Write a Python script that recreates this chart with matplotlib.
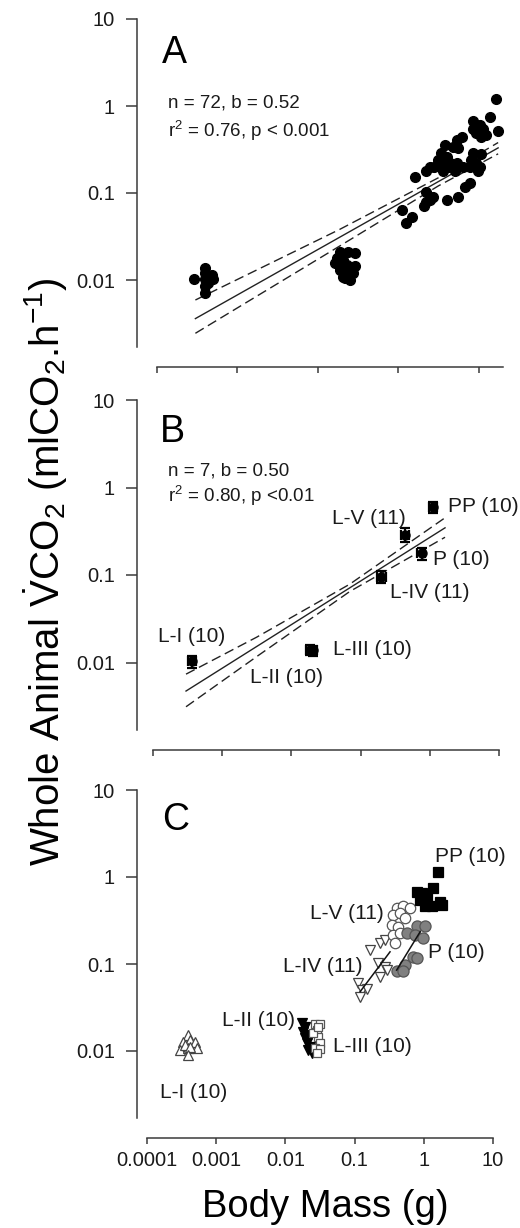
import matplotlib
matplotlib.use('Agg')
import matplotlib.pyplot as plt

plt.rcParams['font.family'] = ['Liberation Sans', 'DejaVu Sans']
plt.rcParams['mathtext.fontset'] = 'custom'
plt.rcParams['mathtext.rm'] = 'Liberation Sans'
plt.rcParams['mathtext.it'] = 'Liberation Sans:italic'
plt.rcParams['mathtext.bf'] = 'Liberation Sans:bold'

# ---------------- data ----------------
ytick_vals = [0.01, 0.1, 1, 10]
ytick_labels = ['0.01', '0.1', '1', '10']
xtick_vals = [0.0001, 0.001, 0.01, 0.1, 1, 10]
xtick_labels = ['0.0001', '0.001', '0.01', '0.1', '1', '10']
xtick_vals_A = [0.0001, 0.001, 0.01, 0.1, 1]

# Panel A: all individuals
a_mass = [0.00029, 0.00039, 0.00039, 0.00039, 0.00039, 0.00039, 0.00048, 0.00049, 0.00043,
          0.0187, 0.0238, 0.0288, 0.0171, 0.0206, 0.0163, 0.0227, 0.0288, 0.0187, 0.0238,
          0.0275, 0.0206, 0.0250, 0.0217, 0.0187,
          1.63, 1.37, 0.85, 1.03, 0.85, 1.13, 0.935, 1.24, 1.74, 1.08,
          0.61, 0.53, 0.48, 0.38, 0.55, 0.34, 0.40, 0.31, 0.34, 0.44,
          0.53, 0.64, 0.50, 0.42, 0.36, 0.25, 0.28, 0.22, 0.85, 1.08,
          0.81, 0.935, 1.03, 0.77, 0.98, 0.16, 0.77, 0.67, 0.22, 0.27,
          0.25, 0.21, 0.22, 0.40, 0.55, 0.11, 0.146, 0.126]
a_vco2 = [0.0102, 0.0139, 0.0119, 0.0102, 0.0085, 0.0070, 0.0114, 0.0102, 0.0093,
          0.0212, 0.0212, 0.0202, 0.0177, 0.0170, 0.0155, 0.0149, 0.0145, 0.0130, 0.0125,
          0.0119, 0.0109, 0.0100, 0.0105, 0.0142,
          1.19, 0.74, 0.68, 0.60, 0.55, 0.55, 0.49, 0.46, 0.51, 0.44,
          0.44, 0.41, 0.34, 0.36, 0.33, 0.29, 0.26, 0.24, 0.22, 0.22,
          0.22, 0.20, 0.18, 0.20, 0.18, 0.20, 0.20, 0.18, 0.29, 0.28,
          0.24, 0.22, 0.20, 0.20, 0.18, 0.154, 0.129, 0.118, 0.104, 0.091,
          0.083, 0.070, 0.079, 0.083, 0.091, 0.064, 0.053, 0.045]
a_fit_x = [0.0003, 1.74]
a_fit_y = [0.0036, 0.33]
a_ci_x = [0.0003, 0.0187, 0.316, 1.74]
a_ci_upper = [0.00589, 0.0382, 0.150, 0.380]
a_ci_lower = [0.00244, 0.0246, 0.121, 0.282]
a_stats = ['n = 72, b = 0.52', 'r$^2$ = 0.76, p < 0.001']

# Panel B: stage means +- SE
stages = ['L-I', 'L-II', 'L-III', 'L-IV', 'L-V', 'P', 'PP']
stage_n = [10, 10, 10, 11, 11, 10, 10]
b_mass = [0.00037, 0.0185, 0.0205, 0.20, 0.44, 0.76, 1.12]
b_mass_se = [0.00005, 0.0025, 0.0028, 0.03, 0.06, 0.10, 0.15]
b_vco2 = [0.0103, 0.0140, 0.0138, 0.096, 0.29, 0.178, 0.60]
b_vco2_se = [0.0016, 0.0018, 0.0018, 0.014, 0.05, 0.028, 0.09]
b_fit_x = [0.0003, 1.66]
b_fit_y = [0.00472, 0.346]
b_ci_x = [0.0003, 0.00316, 0.07, 1.66]
b_ci_upper = [0.00736, 0.0195, 0.0787, 0.451]
b_ci_lower = [0.00312, 0.0117, 0.0649, 0.270]
b_stats = ['n = 7, b = 0.50', 'r$^2$ = 0.80, p <0.01']

# Panel C: individuals by stage
c_LI_mass = [0.000395, 0.000335, 0.000418, 0.000494, 0.00030, 0.000395, 0.000522, 0.000354, 0.000418, 0.000395]
c_LI_vco2 = [0.0153, 0.0128, 0.0134, 0.0128, 0.0103, 0.0107, 0.0107, 0.0117, 0.0112, 0.0090]
c_LII_mass = [0.0172, 0.0192, 0.0181, 0.0203, 0.0192, 0.0215, 0.0203, 0.0227, 0.0215, 0.0240]
c_LII_vco2 = [0.0208, 0.0190, 0.0167, 0.0153, 0.0140, 0.0134, 0.0123, 0.0112, 0.0103, 0.0094]
c_LIII_mass = [0.0268, 0.0316, 0.0283, 0.0299, 0.0316, 0.0268, 0.0316, 0.0283, 0.0254, 0.0299]
c_LIII_vco2 = [0.0204, 0.0204, 0.0174, 0.0144, 0.0123, 0.0107, 0.0105, 0.0094, 0.0160, 0.0190]
c_LIV_mass = [0.113, 0.126, 0.150, 0.120, 0.167, 0.233, 0.275, 0.220, 0.275, 0.233, 0.291]
c_LIV_vco2 = [0.061, 0.050, 0.052, 0.042, 0.145, 0.173, 0.189, 0.102, 0.093, 0.071, 0.085]
c_LV_mass = [0.406, 0.506, 0.632, 0.363, 0.453, 0.535, 0.344, 0.429, 0.363, 0.453, 0.384]
c_LV_vco2 = [0.436, 0.464, 0.436, 0.366, 0.382, 0.335, 0.281, 0.269, 0.215, 0.225, 0.173]
c_P_mass = [0.789, 1.04, 0.566, 0.746, 0.984, 0.706, 0.807, 0.535, 0.406, 0.506]
c_P_vco2 = [0.273, 0.273, 0.225, 0.215, 0.197, 0.121, 0.116, 0.097, 0.082, 0.084]
c_PP_mass = [1.62, 1.37, 0.789, 0.931, 1.10, 1.71, 0.881, 1.04, 1.30, 1.81]
c_PP_vco2 = [1.15, 0.74, 0.68, 0.65, 0.57, 0.52, 0.54, 0.46, 0.46, 0.48]
c_fit1_x = [0.12, 0.325]
c_fit1_y = [0.048, 0.138]
c_fit2_x = [0.405, 0.887]
c_fit2_y = [0.085, 0.235]

# ---------------- figure ----------------
W, H = 520, 1228
fig = plt.figure(figsize=(W / 100, H / 100), dpi=100)


def rect(l, r, t, b):
    return [l / W, 1 - b / H, (r - l) / W, (b - t) / H]


def fpos(x, y):
    return x / W, 1 - y / H


AX = '#3a3a3a'
TXT = '#1a1a1a'


def style(ax, xmax, xticks, left_gap, show_xlabels):
    ax.set_xscale('log')
    ax.set_yscale('log')
    ax.set_xlim(1e-4, xmax)
    ax.set_ylim(1e-3, 10)
    ax.spines['top'].set_visible(False)
    ax.spines['right'].set_visible(False)
    ax.spines['left'].set_position(('outward', left_gap * 0.72))
    ax.spines['left'].set_bounds(0.0017, 10)
    for s in ('left', 'bottom'):
        ax.spines[s].set_linewidth(1.1)
        ax.spines[s].set_color(AX)
    ax.set_yticks(ytick_vals)
    ax.set_yticklabels(ytick_labels)
    ax.set_xticks(xticks)
    if show_xlabels:
        ax.set_xticklabels(xtick_labels)
    else:
        ax.set_xticklabels([])
    ax.minorticks_off()
    ax.tick_params(axis='y', direction='out', length=8, width=1.1, color=AX,
                   labelsize=14.5, pad=8, labelcolor=TXT)
    ax.tick_params(axis='x', direction='out', length=4.5, width=1.1, color=AX,
                   labelsize=14.5, pad=5, labelcolor=TXT)
    ax.patch.set_visible(False)


axA = fig.add_axes(rect(157, 503, 19, 367))
axB = fig.add_axes(rect(153, 499, 400, 750))
axC = fig.add_axes(rect(147, 493, 790, 1138))
style(axA, 2.0, xtick_vals_A, 20, False)
style(axB, 10, xtick_vals, 16, False)
style(axC, 10, xtick_vals, 10, True)

dash = (7, 3.5)
# Panel A
axA.plot(a_fit_x, a_fit_y, color='#222222', lw=1.0, zorder=2)
axA.plot(a_ci_x, a_ci_upper, color='#222222', lw=1.0, dashes=dash, zorder=2)
axA.plot(a_ci_x, a_ci_lower, color='#222222', lw=1.0, dashes=dash, zorder=2)
axA.plot(a_mass, a_vco2, 'o', ms=7, mfc='black', mec='black', ls='none', zorder=3, clip_on=False)

# Panel B
axB.plot(b_fit_x, b_fit_y, color='#222222', lw=1.0, zorder=2)
axB.plot(b_ci_x, b_ci_upper, color='#222222', lw=1.0, dashes=dash, zorder=2)
axB.plot(b_ci_x, b_ci_lower, color='#222222', lw=1.0, dashes=dash, zorder=2)
axB.errorbar(b_mass, b_vco2, xerr=b_mass_se, yerr=b_vco2_se, fmt='o', ms=6.5, mfc='black',
             mec='black', ecolor='black', elinewidth=1.6, capsize=3.5, capthick=1.6, zorder=3)

# Panel C
axC.plot(c_LI_mass, c_LI_vco2, '^', ms=6.5, mfc='white', mec='#444444', mew=0.9, ls='none', zorder=3)
axC.plot(c_LII_mass, c_LII_vco2, 'v', ms=7, mfc='black', mec='black', mew=0.9, ls='none', zorder=3)
axC.plot(c_LIII_mass, c_LIII_vco2, 's', ms=6, mfc='white', mec='#555555', mew=0.9, ls='none', zorder=3)
axC.plot(c_LIV_mass, c_LIV_vco2, 'v', ms=7.5, mfc='white', mec='#444444', mew=0.9, ls='none', zorder=3)
axC.plot(c_LV_mass, c_LV_vco2, 'o', ms=7.5, mfc='white', mec='#555555', mew=0.9, ls='none', zorder=3)
axC.plot(c_P_mass, c_P_vco2, 'o', ms=8, mfc='#808080', mec='#555555', mew=0.9, ls='none', zorder=3)
axC.plot(c_PP_mass, c_PP_vco2, 's', ms=7.5, mfc='black', mec='black', mew=0.9, ls='none', zorder=3)
axC.plot(c_fit1_x, c_fit1_y, color='#111111', lw=1.1, zorder=4)
axC.plot(c_fit2_x, c_fit2_y, color='#111111', lw=1.1, zorder=4)

# Panel letters and stats
for letter, (x, y) in zip('ABC', [(162, 63), (160, 442), (162, 830)]):
    fig.text(*fpos(x, y), letter, fontsize=27, color='black', va='baseline')
for s, y in zip(a_stats, [108, 137]):
    fig.text(*fpos(168, y), s, fontsize=13.5, color=TXT, va='baseline')
for s, y in zip(b_stats, [476, 502]):
    fig.text(*fpos(168, y), s, fontsize=13.5, color=TXT, va='baseline')

# stage labels
b_label_pos = [(158, 642), (250, 683), (333, 655), (390, 598), (332, 524), (433, 565), (448, 512)]
c_label_pos = [(160, 1098), (222, 1026), (333, 1052), (283, 972), (310, 919), (428, 958), (435, 862)]
for st, n, (x, y) in zip(stages, stage_n, b_label_pos):
    fig.text(*fpos(x, y), f'{st} ({n})', fontsize=15, color=TXT, va='baseline')
for st, n, (x, y) in zip(stages, stage_n, c_label_pos):
    fig.text(*fpos(x, y), f'{st} ({n})', fontsize=15, color=TXT, va='baseline')

# axis titles
fig.text(*fpos(325, 1217), 'Body Mass (g)', fontsize=27.5, color='black', ha='center', va='baseline')
fig.text(*fpos(46, 572), r'Whole Animal $\dot{\mathrm{V}}$CO$_2$ (mlCO$_2$.h$^{-1}$)',
         fontsize=29, color='black', ha='center', va='center', rotation=90)

fig.savefig('out.png', dpi=100)
